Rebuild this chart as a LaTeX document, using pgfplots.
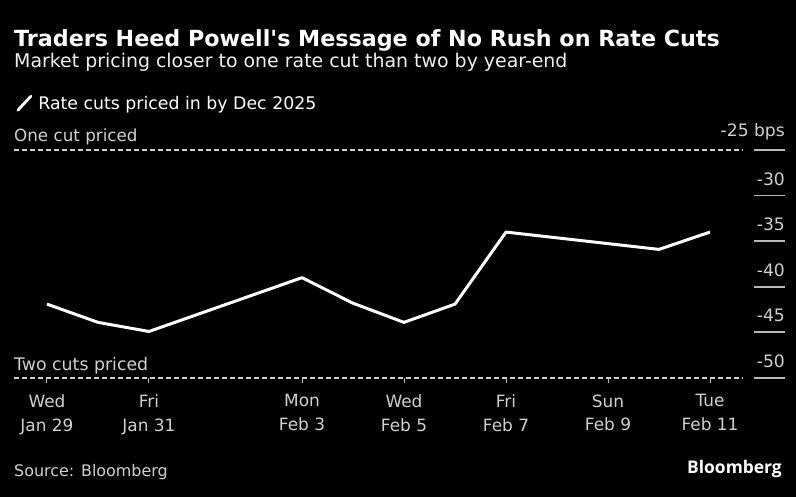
\documentclass[border=0pt]{standalone}
\usepackage{pgfplots}
\pgfplotsset{compat=1.18}
\usepackage{fontspec}
\setmainfont{DejaVu Sans}
\newfontfamily\logofont{Open Sans}

\definecolor{txt}{HTML}{F0F0F0}
\definecolor{dim}{HTML}{D0D0D0}
\definecolor{tickc}{HTML}{B8B8B8}

% day index: 0 = Wed Jan 29 ... 13 = Tue Feb 11
\pgfplotstableread{
day  bps
0    -41.9
1    -43.9
2    -44.9
5    -39.0
6    -41.8
7    -43.9
8    -41.9
9    -34.0
12   -35.9
13   -34.0
}\cuts

\begin{document}
\begin{tikzpicture}[x=1bp,y=1bp]
\fill[black] (0,0) rectangle (796,497);
\useasboundingbox (0,0) rectangle (796,497);

\node[anchor=base west, inner sep=0pt, text=white,
      font=\fontsize{22.3}{24}\selectfont\bfseries] at (14,450)
  {Traders Heed Powell\textquotesingle s Message of No Rush on Rate Cuts};
\node[anchor=base west, inner sep=0pt, text=txt,
      font=\fontsize{19}{22}\selectfont] at (14,429)
  {Market pricing closer to one rate cut than two by year-end};

\node[anchor=base west, inner sep=0pt, text=dim,
      font=\fontsize{16.8}{20}\selectfont] at (14,355) {One cut priced};
\node[anchor=base west, inner sep=0pt, text=dim,
      font=\fontsize{17.4}{20}\selectfont] at (14,126) {Two cuts priced};

\node[anchor=base west, inner sep=0pt, text=dim,
      font=\fontsize{16}{20}\selectfont] at (14,20) {Source: Bloomberg};
\node[anchor=base east, inner sep=0pt, text=white,
      font=\logofont\fontsize{17.5}{20}\selectfont\bfseries] at (782,23) {Bloomberg};

% data and y axis
\begin{axis}[
    at={(14bp,119bp)}, anchor=south west,
    scale only axis, width=740bp, height=228bp,
    xmin=-0.647, xmax=13.863, ymin=-50, ymax=-25,
    clip=false,
    axis line style={draw=none},
    xtick=\empty,
    ytick={-50,-45,-40,-35,-30,-25},
    yticklabels={-50,-45,-40,-35,-30,-25 bps},
    ytick pos=right, yticklabel pos=right,
    tick align=outside, major tick length=31bp,
    tick style={tickc, line width=1.8bp},
    yticklabel style={anchor=south east, inner sep=0pt, yshift=10bp,
                      text=dim, font=\fontsize{17.2}{20}\selectfont},
    legend style={at={(0.003,1.205)}, anchor=west, draw=none, fill=none,
                  text=white, font=\fontsize{17.4}{20}\selectfont,
                  inner xsep=0pt, inner ysep=0pt,
                  nodes={inner xsep=3bp}},
    legend image code/.code={
        \draw[white, line width=2.8bp, line cap=round] (0bp,-7bp) -- (13bp,7bp);
        \path (16bp,0bp);}
]
\addplot[dim, line width=1.5bp, dash pattern=on 5bp off 3bp, forget plot]
    coordinates {(-0.647,-25) (13.647,-25)};
\addplot[dim, line width=1.5bp, dash pattern=on 5bp off 3bp, forget plot]
    coordinates {(-0.647,-50) (13.647,-50)};
\addplot[white, line width=3bp, line join=round] table[x=day, y=bps] {\cuts};
\addlegendentry{Rate cuts priced in by Dec 2025}
\end{axis}

% date axis
\begin{axis}[
    at={(14bp,119bp)}, anchor=south west,
    scale only axis, width=740bp, height=228bp,
    xmin=-0.647, xmax=13.863, ymin=-50, ymax=-25,
    axis line style={draw=none},
    ytick=\empty,
    xtick={0,2,5,7,9,11,13},
    xticklabels={{Wed\\Jan 29},{Fri\\Jan 31},{Mon\\Feb 3},{Wed\\Feb 5},
                 {Fri\\Feb 7},{Sun\\Feb 9},{Tue\\Feb 11}},
    xtick pos=bottom,
    tick align=outside, major tick length=5bp,
    tick style={tickc, line width=1bp},
    xticklabel style={align=center, text=dim, yshift=-8bp,
                      font=\fontsize{17}{24}\selectfont},
]
\end{axis}
\end{tikzpicture}
\end{document}
